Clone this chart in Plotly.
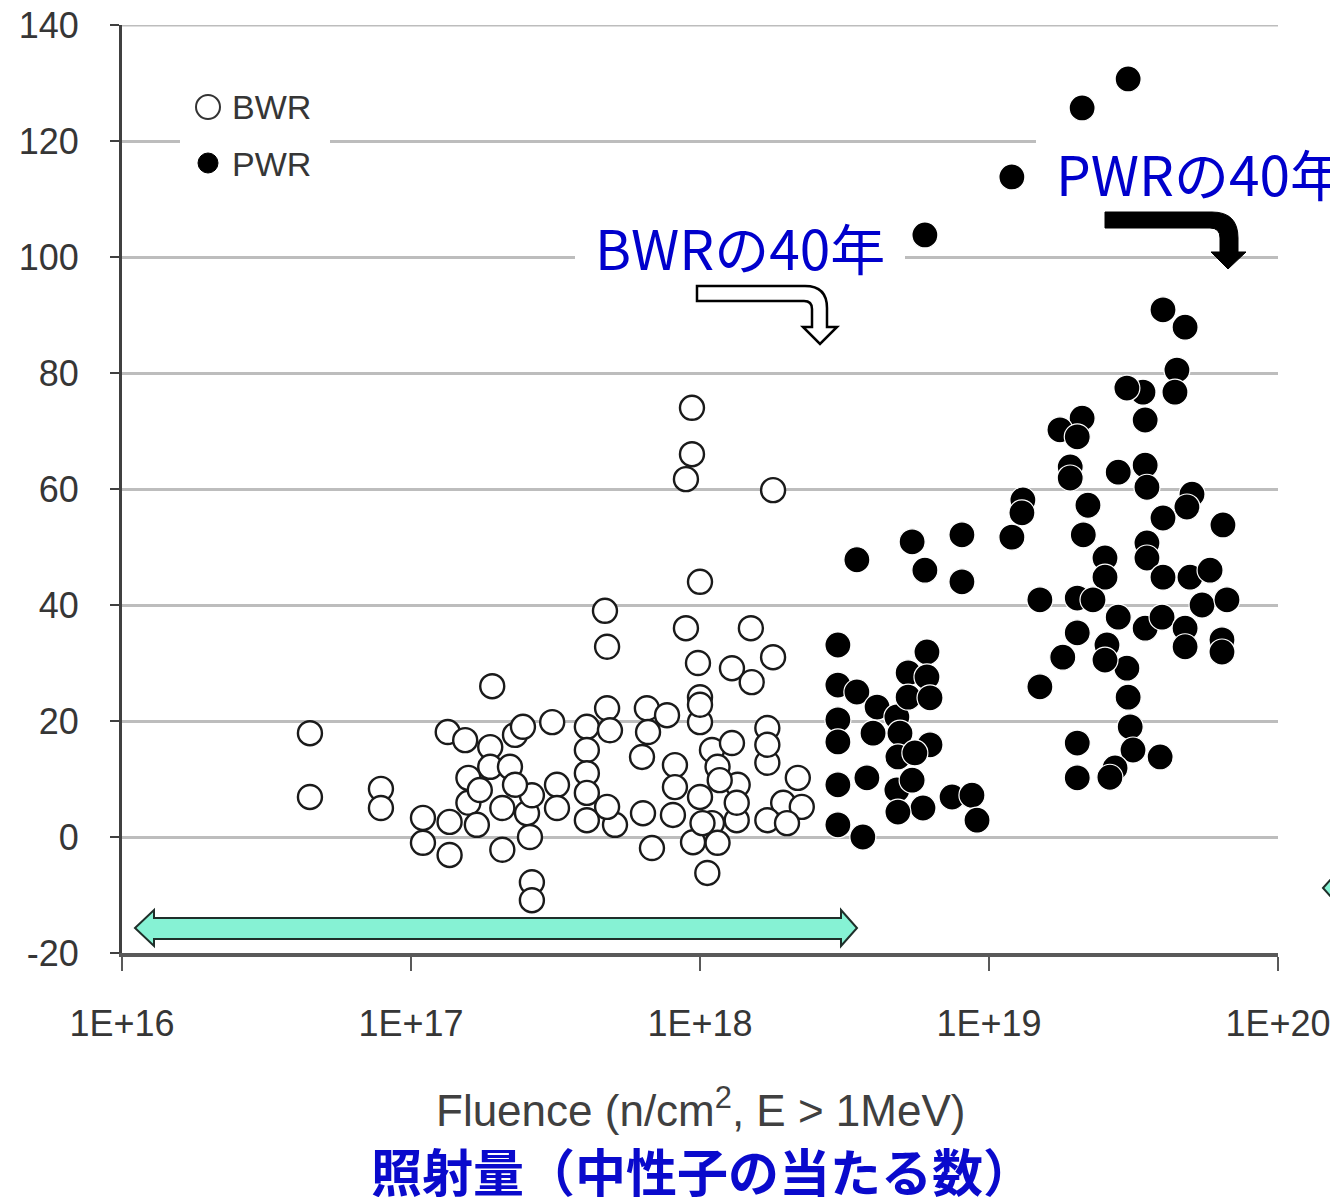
import plotly.graph_objects as go

# ---------------- data ----------------
bwr_fluence = [4.47e16, 4.47e16, 7.87e16, 7.87e16, 1.10e17, 1.10e17, 1.36e17, 1.36e17, 1.34e17, 1.54e17,
               1.88e17, 2.29e17, 2.44e17, 3.08e17, 1.88e17, 2.20e17, 1.58e17, 1.58e17, 2.07e17, 2.52e17,
               2.62e17, 3.20e17, 3.20e17, 1.69e17, 2.07e17, 2.58e17, 2.62e17, 2.62e17, 1.91e17, 4.06e17,
               4.06e17, 4.06e17, 4.06e17, 4.06e17, 4.69e17, 4.77e17, 4.77e17, 4.88e17, 5.08e17, 6.35e17,
               6.82e17, 6.55e17, 7.69e17, 6.61e17, 6.30e17, 8.19e17, 8.19e17, 1.00e18, 1.00e18, 1.00e18,
               1.10e18, 1.15e18, 1.29e18, 1.35e18, 1.10e18, 1.15e18, 1.06e18, 1.34e18, 1.71e18, 1.71e18,
               1.71e18, 2.18e18, 1.94e18, 2.25e18, 1.71e18, 2.00e18, 9.38e17, 9.38e17, 8.94e17, 1.79e18,
               1.00e18, 8.94e17, 1.50e18, 9.84e17, 1.29e18, 1.51e18, 1.79e18, 8.06e17, 9.46e17, 1.02e18,
               1.00e18, 1.17e18, 1.73e17, 2.29e17, 4.77e17, 1.34e18]
bwr_shift = [17.9, 6.9, 8.3, 5.0, 3.3, -1.0, -3.1, 2.6, 18.1, 16.7,
             15.5, 17.6, 19.0, 19.8, 12.1, 12.1, 10.2, 5.9, 5.0, 4.1,
             7.2, 9.0, 5.0, 2.1, -2.2, 0.0, -7.8, -10.9, 26.0, 19.0,
             15.0, 11.0, 7.6, 2.9, 39.0, 32.8, 22.2, 18.4, 2.1, 4.1,
             -1.9, 22.2, 21.0, 18.1, 13.8, 12.4, 8.6, 24.1, 19.8, 6.9,
             15.0, 12.1, 16.2, 9.0, 2.4, -1.0, -6.2, 2.9, 18.8, 12.8,
             15.9, 10.2, 5.9, 5.2, 2.9, 2.4, 74.0, 66.0, 61.7, 59.8,
             44.0, 36.0, 36.0, 30.0, 29.1, 26.7, 31.0, 3.8, -0.9, 2.4,
             22.8, 9.8, 8.1, 9.0, 5.2, 5.9]

pwr_fluence = [3.03e19, 2.10e19, 1.20e19, 6.00e18, 4.00e19, 4.77e19, 4.47e19, 4.40e19, 3.41e19, 3.00e19,
               3.47e19, 2.10e19, 1.76e19, 2.02e19, 1.91e19, 1.91e19, 2.80e19, 3.47e19, 3.52e19, 1.31e19,
               1.30e19, 1.20e19, 2.20e19, 2.12e19, 5.04e19, 4.84e19, 4.00e19, 6.45e19, 2.52e19, 2.52e19,
               3.52e19, 3.52e19, 4.00e19, 4.96e19, 5.82e19, 1.50e19, 2.02e19, 2.29e19, 2.80e19, 3.47e19,
               3.97e19, 4.77e19, 5.46e19, 6.66e19, 4.77e19, 6.40e19, 6.40e19, 2.02e19, 1.80e19, 2.56e19,
               1.50e19, 3.00e19, 3.03e19, 3.08e19, 3.15e19, 2.02e19, 2.73e19, 2.62e19, 2.02e19, 3.91e19,
               3.49e18, 5.42e18, 6.00e18, 8.06e18, 8.06e18, 3.00e18, 6.10e18, 3.00e18, 3.49e18, 4.10e18,
               3.00e18, 3.00e18, 4.80e18, 5.25e18, 6.10e18, 5.25e18, 6.25e18, 3.97e18, 4.92e18, 6.25e18,
               4.84e18, 5.54e18, 3.78e18, 3.00e18, 4.80e18, 5.42e18, 5.91e18, 4.84e18, 7.45e18, 8.73e18,
               9.09e18, 3.00e18, 3.66e18, 2.52e19]
pwr_shift = [130.7, 125.7, 113.8, 103.8, 90.9, 87.9, 80.5, 76.7, 76.7, 77.4,
             71.9, 72.2, 70.2, 69.0, 63.8, 61.9, 62.9, 64.1, 60.3, 58.1,
             55.9, 51.7, 57.2, 52.1, 59.1, 56.9, 55.0, 53.8, 48.1, 44.8,
             50.7, 48.1, 44.8, 44.8, 46.0, 40.9, 41.2, 40.9, 37.9, 36.0,
             37.9, 36.0, 40.0, 40.9, 32.8, 34.0, 31.9, 35.2, 31.0, 33.1,
             25.9, 29.1, 24.1, 19.0, 15.0, 16.2, 11.9, 10.3, 10.2, 13.8,
             47.8, 50.9, 46.0, 52.1, 44.0, 33.1, 31.9, 26.2, 25.0, 22.4,
             20.2, 16.4, 20.7, 28.3, 27.6, 24.1, 24.0, 17.9, 17.9, 15.9,
             13.8, 14.5, 10.2, 9.0, 8.1, 9.8, 5.0, 4.3, 6.9, 7.2,
             2.9, 2.1, 0.0, 30.5]

x_tickvals = [1e16, 1e17, 1e18, 1e19, 1e20]
x_ticktext = ["1E+16", "1E+17", "1E+18", "1E+19", "1E+20"]
y_tickvals = [-20, 0, 20, 40, 60, 80, 100, 120, 140]
y_ticktext = ["-20", "0", "20", "40", "60", "80", "100", "120", "140"]
legend_names = ["BWR", "PWR"]

# ---------------- layout helpers ----------------
W, H = 1338, 1197
OFF = 8                                  # page offset of the figure (body margin)
PL, PR, PT, PB = 122, 1278, 25, 953      # plot area in page pixels
L, R, T, B = PL - OFF, PR - OFF, PT - OFF, PB - OFF


def xp(px):
    return (px - PL) / (PR - PL)


def yp(py):
    return (PB - py) / (PB - PT)


def P(px, py):
    return f"{xp(px):.5f},{yp(py):.5f}"


def path(points, close=True):
    s = ""
    for i, item in enumerate(points):
        if item[0] == "Q":
            s += f" Q {P(*item[1])} {P(*item[2])}"
        else:
            s += (" M " if i == 0 else " L ") + P(*item)
    return s + (" Z" if close else "")


def rect(x0, y0, x1, y1):
    return path([(x0, y0), (x1, y0), (x1, y1), (x0, y1)])


SANS = "Liberation Sans, Arial, sans-serif"
tick_font = dict(family=SANS, size=36, color="#363636")

fig = go.Figure()
fig.add_trace(go.Scatter(
    x=bwr_fluence, y=bwr_shift, mode="markers", name=legend_names[0],
    marker=dict(symbol="circle", size=24, color="white", line=dict(color="#1a1a1a", width=2.4)),
))
fig.add_trace(go.Scatter(
    x=pwr_fluence, y=pwr_shift, mode="markers", name=legend_names[1],
    marker=dict(symbol="circle", size=26, color="black", line=dict(color="white", width=1.2)),
))

shapes = []
# gridline at the top edge of the plot (140)
shapes.append(dict(type="line", xref="paper", yref="y", x0=0, x1=1, y0=y_tickvals[-1], y1=y_tickvals[-1],
                   layer="below", line=dict(color="#BDBDBD", width=3)))
# white boxes behind labels and legend
for box in [(575, 217, 905, 281), (1036, 132, 1345, 206), (180, 78, 330, 192)]:
    shapes.append(dict(type="path", xref="paper", yref="paper", layer="above",
                       path=rect(*box), fillcolor="white", line=dict(width=0)))
# legend symbols
shapes.append(dict(type="circle", xref="paper", yref="paper", layer="above",
                   x0=xp(208 - 12), x1=xp(208 + 12), y0=yp(107 + 12), y1=yp(107 - 12),
                   fillcolor="white", line=dict(color="#333333", width=2)))
shapes.append(dict(type="circle", xref="paper", yref="paper", layer="above",
                   x0=xp(208 - 10), x1=xp(208 + 10), y0=yp(163 + 10), y1=yp(163 - 10),
                   fillcolor="black", line=dict(color="black", width=1)))
# hollow BWR arrow
shapes.append(dict(type="path", xref="paper", yref="paper", layer="above",
                   path=path([(697, 286), (805, 286), ("Q", (827, 286), (827, 308)), (827, 327),
                              (837, 327), (820, 344), (803, 327), (812, 327), (812, 309),
                              ("Q", (812, 301), (804, 301)), (697, 301)]),
                   fillcolor="white", line=dict(color="black", width=2.5)))
# filled PWR arrow
shapes.append(dict(type="path", xref="paper", yref="paper", layer="above",
                   path=path([(1105, 212), (1212, 212), ("Q", (1238, 212), (1238, 238)), (1238, 252),
                              (1246, 252), (1228, 269), (1211, 252), (1220, 252), (1220, 238),
                              ("Q", (1220, 228), (1210, 228)), (1105, 228)]),
                   fillcolor="black", line=dict(color="black", width=1)))
# teal double arrow (BWR range)
shapes.append(dict(type="path", xref="paper", yref="paper", layer="above",
                   path=path([(135, 928), (154, 910), (154, 918), (841, 918), (841, 910), (857, 928),
                              (841, 946), (841, 939), (154, 939), (154, 946)]),
                   fillcolor="#86F2D4", line=dict(color="#1f2f2a", width=2)))
# teal arrow fragment at right edge (PWR range)
shapes.append(dict(type="path", xref="paper", yref="paper", layer="above",
                   path=path([(1323, 888), (1341, 868), (1341, 877), (1400, 877), (1400, 899),
                              (1341, 899), (1341, 908)]),
                   fillcolor="#86F2D4", line=dict(color="#1f2f2a", width=2)))

CJK = "Noto Sans CJK JP"
annotations = [
    dict(text=legend_names[0], xref="paper", yref="paper", x=xp(230), y=yp(107),
         xanchor="left", yanchor="middle", showarrow=False, font=dict(family=SANS, size=34, color="#363636")),
    dict(text=legend_names[1], xref="paper", yref="paper", x=xp(230), y=yp(164),
         xanchor="left", yanchor="middle", showarrow=False, font=dict(family=SANS, size=34, color="#363636")),
    dict(text="BWRの40年", xref="paper", yref="paper", x=xp(740), y=yp(246),
         xanchor="center", yanchor="middle", showarrow=False,
         font=dict(family=CJK, size=55, color="#0000CC")),
    dict(text="PWRの40年", xref="paper", yref="paper", x=xp(1054), y=yp(172),
         xanchor="left", yanchor="middle", showarrow=False,
         font=dict(family=CJK, size=55, color="#0000CC")),
    dict(text="Fluence (n/cm<sup>2</sup>, E > 1MeV)", xref="paper", yref="paper",
         x=xp(700), y=yp(1107), xanchor="center", yanchor="middle",
         showarrow=False, font=dict(family=SANS, size=44, color="#404040")),
    dict(text="<b>照射量（中性子の当たる数）</b>", xref="paper", yref="paper",
         x=xp(702), y=yp(1170), xanchor="center", yanchor="middle",
         showarrow=False, font=dict(family=CJK, size=51, color="#0A0ACC")),
]

fig.update_layout(
    width=W, height=H,
    margin=dict(l=L, r=W - R, t=T, b=H - B, autoexpand=False),
    paper_bgcolor="white", plot_bgcolor="white",
    showlegend=False,
    shapes=shapes, annotations=annotations,
)
fig.update_xaxes(type="log", range=[16, 20], tickvals=x_tickvals, ticktext=x_ticktext,
                 showgrid=False, zeroline=False, showline=True, linecolor="#595959", linewidth=4,
                 ticks="outside", ticklen=14, tickwidth=2, tickcolor="#595959",
                 tickfont=tick_font, ticklabelstandoff=22, ticklabeloverflow="allow")
fig.update_yaxes(range=[-20, 140], tickvals=y_tickvals, ticktext=y_ticktext,
                 showgrid=True, gridcolor="#BDBDBD", gridwidth=3,
                 zeroline=False, showline=True, linecolor="#404040", linewidth=3,
                 ticks="outside", ticklen=9, tickwidth=2, tickcolor="#404040",
                 tickfont=tick_font, ticklabelstandoff=24, ticklabeloverflow="allow")

fig.write_html("out.html")
